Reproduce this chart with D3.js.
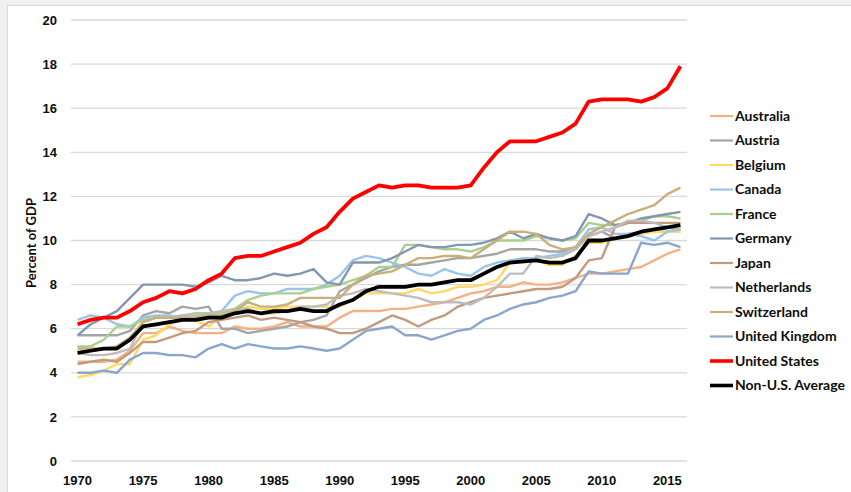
<!DOCTYPE html>
<html>
<head>
<meta charset="utf-8">
<script src="https://cdn.jsdelivr.net/npm/d3@7"></script>
<style>
  body { margin: 0; background: #f0f0f2; }
  svg { display: block; font-family: Lato, "Open Sans", sans-serif; }
  .tick text { font-size: 13px; font-weight: bold; fill: #0d0d0d; }
  .legend text { font-size: 14px; font-weight: bold; fill: #0d0d0d; }
</style>
</head>
<body>
<div id="chart"></div>
<script>
const years = [1970, 1971, 1972, 1973, 1974, 1975, 1976, 1977, 1978, 1979,
  1980, 1981, 1982, 1983, 1984, 1985, 1986, 1987, 1988, 1989,
  1990, 1991, 1992, 1993, 1994, 1995, 1996, 1997, 1998, 1999,
  2000, 2001, 2002, 2003, 2004, 2005, 2006, 2007, 2008, 2009,
  2010, 2011, 2012, 2013, 2014, 2015, 2016];
const yearLabels = [1970, 1975, 1980, 1985, 1990, 1995, 2000, 2005, 2010, 2015];
const yTicks = [0, 2, 4, 6, 8, 10, 12, 14, 16, 18, 20];

// percent of GDP
const australia = [4.5, 4.5, 4.5, 4.6, 5.0, 5.8, 5.8, 6.1, 5.9, 5.8,
  5.8, 5.8, 6.1, 6.0, 6.0, 6.1, 6.3, 6.1, 6.1, 6.1,
  6.5, 6.8, 6.8, 6.8, 6.9, 6.9, 7.0, 7.1, 7.2, 7.4,
  7.6, 7.7, 7.9, 7.9, 8.1, 8.0, 8.0, 8.1, 8.3, 8.5,
  8.5, 8.6, 8.7, 8.8, 9.1, 9.4, 9.6];
const austria = [5.7, 5.7, 5.7, 5.7, 5.9, 6.6, 6.8, 6.7, 7.0, 6.9,
  7.0, 6.0, 6.0, 5.8, 5.9, 6.0, 6.1, 6.3, 6.4, 6.6,
  7.7, 8.0, 8.3, 8.6, 8.8, 8.9, 8.9, 9.0, 9.1, 9.2,
  9.2, 9.3, 9.4, 9.6, 9.6, 9.6, 9.5, 9.5, 9.7, 10.2,
  10.4, 10.1, 10.3, 10.4, 10.4, 10.4, 10.5];
const belgium = [3.8, 3.9, 4.1, 4.4, 4.4, 5.5, 5.7, 6.2, 6.4, 6.4,
  6.1, 6.6, 6.8, 7.0, 6.9, 6.9, 7.0, 7.0, 7.0, 7.0,
  7.0, 7.3, 7.6, 7.6, 7.6, 7.6, 7.8, 7.6, 7.7, 7.9,
  7.9, 8.0, 8.2, 9.0, 9.0, 9.1, 8.9, 8.9, 9.3, 9.9,
  9.9, 10.1, 10.2, 10.3, 10.4, 10.4, 10.4];
const canada = [6.4, 6.6, 6.5, 6.2, 6.1, 6.5, 6.6, 6.6, 6.5, 6.5,
  6.6, 6.8, 7.5, 7.7, 7.6, 7.6, 7.8, 7.8, 7.8, 8.0,
  8.4, 9.1, 9.3, 9.2, 9.0, 8.8, 8.5, 8.4, 8.7, 8.5,
  8.4, 8.8, 9.0, 9.1, 9.2, 9.2, 9.3, 9.4, 9.7, 10.5,
  10.6, 10.3, 10.3, 10.2, 10.0, 10.4, 10.5];
const france = [5.2, 5.2, 5.5, 6.1, 6.1, 6.4, 6.5, 6.5, 6.6, 6.7,
  6.7, 6.7, 6.9, 7.3, 7.5, 7.6, 7.6, 7.6, 7.8, 7.9,
  8.0, 8.2, 8.4, 8.8, 8.8, 9.8, 9.8, 9.7, 9.6, 9.6,
  9.5, 9.7, 10.0, 10.0, 10.0, 10.2, 10.1, 10.0, 10.1, 10.8,
  10.7, 10.7, 10.8, 10.9, 11.1, 11.1, 11.0];
const germany = [5.7, 6.2, 6.5, 6.8, 7.4, 8.0, 8.0, 8.0, 8.0, 7.9,
  8.1, 8.4, 8.2, 8.2, 8.3, 8.5, 8.4, 8.5, 8.7, 8.1,
  8.0, 9.0, 9.0, 9.0, 9.2, 9.5, 9.8, 9.7, 9.7, 9.8,
  9.8, 9.9, 10.1, 10.4, 10.1, 10.3, 10.1, 10.0, 10.2, 11.2,
  11.0, 10.7, 10.8, 11.0, 11.1, 11.2, 11.3];
const japan = [4.4, 4.5, 4.6, 4.5, 4.9, 5.4, 5.4, 5.6, 5.8, 5.9,
  6.3, 6.4, 6.5, 6.6, 6.4, 6.5, 6.4, 6.3, 6.1, 6.0,
  5.8, 5.8, 6.0, 6.3, 6.6, 6.4, 6.1, 6.4, 6.6, 7.0,
  7.2, 7.4, 7.5, 7.6, 7.7, 7.8, 7.8, 7.9, 8.3, 9.1,
  9.2, 10.6, 10.8, 10.8, 10.8, 10.8, 10.8];
const netherlands = [4.9, 4.8, 4.8, 4.9, 5.1, 6.3, 6.5, 6.5, 6.6, 6.6,
  6.7, 6.8, 6.9, 6.9, 6.7, 6.7, 6.8, 7.0, 7.0, 7.1,
  7.5, 7.6, 7.8, 7.7, 7.6, 7.5, 7.4, 7.2, 7.2, 7.2,
  7.1, 7.4, 7.9, 8.5, 8.5, 9.3, 9.2, 9.3, 9.6, 10.2,
  10.4, 10.6, 10.9, 10.9, 10.8, 10.6, 10.5];
const switzerland = [5.1, 5.1, 5.1, 5.2, 5.6, 6.3, 6.5, 6.5, 6.5, 6.5,
  6.6, 6.6, 6.8, 7.2, 7.0, 7.0, 7.1, 7.4, 7.4, 7.4,
  7.4, 8.0, 8.4, 8.5, 8.6, 8.9, 9.2, 9.2, 9.3, 9.3,
  9.2, 9.6, 10.0, 10.4, 10.4, 10.3, 9.8, 9.6, 9.7, 10.3,
  10.6, 10.9, 11.2, 11.4, 11.6, 12.1, 12.4];
const unitedKingdom = [4.0, 4.0, 4.1, 4.0, 4.6, 4.9, 4.9, 4.8, 4.8, 4.7,
  5.1, 5.3, 5.1, 5.3, 5.2, 5.1, 5.1, 5.2, 5.1, 5.0,
  5.1, 5.5, 5.9, 6.0, 6.1, 5.7, 5.7, 5.5, 5.7, 5.9,
  6.0, 6.4, 6.6, 6.9, 7.1, 7.2, 7.4, 7.5, 7.7, 8.6,
  8.5, 8.5, 8.5, 9.9, 9.8, 9.9, 9.7];
const unitedStates = [6.2, 6.4, 6.5, 6.5, 6.8, 7.2, 7.4, 7.7, 7.6, 7.8,
  8.2, 8.5, 9.2, 9.3, 9.3, 9.5, 9.7, 9.9, 10.3, 10.6,
  11.3, 11.9, 12.2, 12.5, 12.4, 12.5, 12.5, 12.4, 12.4, 12.4,
  12.5, 13.3, 14.0, 14.5, 14.5, 14.5, 14.7, 14.9, 15.3, 16.3,
  16.4, 16.4, 16.4, 16.3, 16.5, 16.9, 17.9];
const nonUSAverage = [4.9, 5.0, 5.1, 5.1, 5.5, 6.1, 6.2, 6.3, 6.4, 6.4,
  6.5, 6.5, 6.7, 6.8, 6.7, 6.8, 6.8, 6.9, 6.8, 6.8,
  7.1, 7.3, 7.7, 7.9, 7.9, 7.9, 8.0, 8.0, 8.1, 8.2,
  8.2, 8.5, 8.8, 9.0, 9.05, 9.1, 9.0, 9.0, 9.2, 10.0,
  10.0, 10.1, 10.2, 10.4, 10.5, 10.6, 10.7];

const seriesNames = ['Australia', 'Austria', 'Belgium', 'Canada', 'France', 'Germany',
  'Japan', 'Netherlands', 'Switzerland', 'United Kingdom', 'United States', 'Non-U.S. Average'];
const seriesValues = [australia, austria, belgium, canada, france, germany,
  japan, netherlands, switzerland, unitedKingdom, unitedStates, nonUSAverage];
const colors = ['#f4b183', '#a5a5a5', '#ffd966', '#9dc3e6', '#a9d18e', '#8497b0',
  '#c39a7d', '#bdbdbd', '#c8b07a', '#8aa6cc', '#ff0000', '#000000'];

const w = 851;
const h = 492;
const plotLeft = 71, plotRight = 687, plotTop = 20, plotBottom = 461;

const svg = d3.select('#chart')
              .append('svg')
              .attr('width', w)
              .attr('height', h);

// white chart area inside the grey frame
svg.append('rect')
   .attr('x', 7.5)
   .attr('y', 5.5)
   .attr('width', w)
   .attr('height', h)
   .attr('fill', '#fff')
   .attr('stroke', '#d9d9d9');

//Scales
const xScale = d3.scaleBand()
                 .domain(years)
                 .range([plotLeft, plotRight]);
const xPos = yr => xScale(yr) + xScale.bandwidth() / 2;

const yScale = d3.scaleLinear()
                 .domain([0, 20])
                 .range([plotBottom, plotTop]);

//Gridlines
svg.append('g')
   .selectAll('line')
   .data(yTicks)
   .enter()
   .append('line')
   .attr('x1', plotLeft)
   .attr('x2', plotRight)
   .attr('y1', d => yScale(d))
   .attr('y2', d => yScale(d))
   .attr('stroke', '#d9d9d9')
   .attr('stroke-width', 1.3);

//Axes
const yAxis = d3.axisLeft(yScale).tickValues(yTicks).tickSize(0).tickPadding(14);
svg.append('g')
   .attr('transform', `translate(${plotLeft}, 0)`)
   .call(yAxis)
   .call(g => g.select('.domain').remove());

const xAxis = d3.axisBottom(xScale).tickValues(yearLabels).tickSize(0).tickPadding(15);
svg.append('g')
   .attr('transform', `translate(0, ${plotBottom})`)
   .call(xAxis)
   .call(g => g.select('.domain').remove());

svg.append('text')
   .attr('transform', 'rotate(-90)')
   .attr('x', -243)
   .attr('y', 36)
   .attr('text-anchor', 'middle')
   .style('font-size', '13px')
   .style('font-weight', 'bold')
   .attr('fill', '#0d0d0d')
   .text('Percent of GDP');

//Lines
const line = d3.line()
               .x((d, i) => xPos(years[i]))
               .y(d => yScale(d));

svg.append('g')
   .selectAll('path')
   .data(seriesValues)
   .enter()
   .append('path')
   .attr('d', d => line(d))
   .attr('fill', 'none')
   .attr('stroke', (d, i) => colors[i])
   .attr('stroke-width', (d, i) => i >= 10 ? 3.8 : 2.4)
   .attr('stroke-linejoin', 'round');

//Legend
const legend = svg.append('g')
                  .attr('class', 'legend')
                  .selectAll('g')
                  .data(seriesNames)
                  .enter()
                  .append('g')
                  .attr('transform', (d, i) => `translate(710, ${116 + i * 24.5})`);

legend.append('line')
      .attr('x1', 0)
      .attr('x2', 23)
      .attr('stroke', (d, i) => colors[i])
      .attr('stroke-width', (d, i) => i >= 10 ? 3.6 : 2.2);

legend.append('text')
      .attr('x', 25)
      .attr('dy', '0.35em')
      .text(d => d);
</script>
</body>
</html>
